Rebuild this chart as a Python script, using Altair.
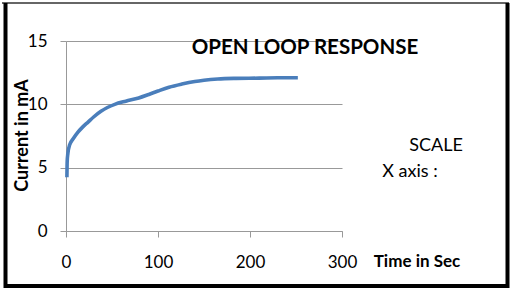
import altair as alt
import pandas as pd

time_s = [1, 1.3, 2, 4, 8, 13, 18, 24, 30, 38, 45, 53, 65, 79, 90, 100, 112, 126, 140, 150, 165, 185, 210, 230, 252]
current_ma = [4.25, 5.5, 6.1, 6.8, 7.3, 7.8, 8.2, 8.6, 9.0, 9.45, 9.75, 10.0, 10.25, 10.5, 10.78, 11.05, 11.35, 11.6, 11.8, 11.9, 12.0, 12.05, 12.07, 12.1, 12.1]
x_ticks = [0, 100, 200, 300]
y_ticks = [0, 5, 10, 15]

df = pd.DataFrame({"t": time_s, "i": current_ma})
FONT = "Lato"

W, H = 276, 190

line = alt.Chart(df).mark_line(color="#4A7EBB", strokeWidth=3.6, interpolate="monotone").encode(
    x=alt.X("t:Q", scale=alt.Scale(domain=[0, 300], nice=False),
            axis=alt.Axis(values=x_ticks, grid=False, title=None, tickSize=6,
                          labelPadding=17, labelFlush=False, domainColor="#999999", tickColor="#999999",
                          labelFont=FONT, labelFontSize=17, labelColor="#000000")),
    y=alt.Y("i:Q", scale=alt.Scale(domain=[0, 15], nice=False),
            axis=alt.Axis(values=y_ticks, grid=True, gridColor="#999999", tickSize=6,
                          labelPadding=13, domainColor="#999999", tickColor="#999999",
                          labelFont=FONT, labelFontSize=17, labelColor="#000000",
                          title="Current in mA", titleFont=FONT, titleFontSize=18,
                          titleFontWeight="bold", titleColor="#000000",
                          titleX=-44, titleY=94, titleAngle=270, titleBaseline="middle")),
)

def txt(s, x, y, size, weight="normal", align="center"):
    return alt.Chart(pd.DataFrame({"a": [0]})).mark_text(
        text=s, font=FONT, fontSize=size, fontWeight=weight, align=align,
        baseline="middle", color="#000000"
    ).encode(x=alt.value(x), y=alt.value(y))

title = txt("OPEN LOOP RESPONSE", 239, 7, 20.5, "bold")
scale_t = txt("SCALE", 370, 105, 18)
xaxis_t = txt("X axis :", 344, 131, 18)
time_t = txt("Time in Sec", 351, 221, 17, "bold")

def rule(x1, y1, x2, y2, w, c="#000000"):
    return alt.Chart(pd.DataFrame({"a": [0]})).mark_rule(color=c, strokeWidth=w).encode(
        x=alt.value(x1), y=alt.value(y1), x2=alt.value(x2), y2=alt.value(y2))

L, T = 66, 41
frame = [
    rule(2 - L, 3 - T, 509 - L, 3 - T, 1.5, "#333333"),
    rule(5.5 - L, 3 - T, 5.5 - L, 288 - T, 4),
    rule(507.5 - L, 3 - T, 507.5 - L, 288 - T, 4),
    rule(4 - L, 286 - T, 509 - L, 286 - T, 4),
]

chart = alt.layer(line, title, scale_t, xaxis_t, time_t, *frame).properties(
    width=W, height=H,
    autosize=alt.AutoSizeParams(type="none"),
    padding={"left": L, "top": T, "right": 513 - L - W, "bottom": 291 - T - H},
    background="#ffffff",
).configure_view(stroke=None)

chart.save("out.html", embed_options={"renderer": "svg", "actions": False})
